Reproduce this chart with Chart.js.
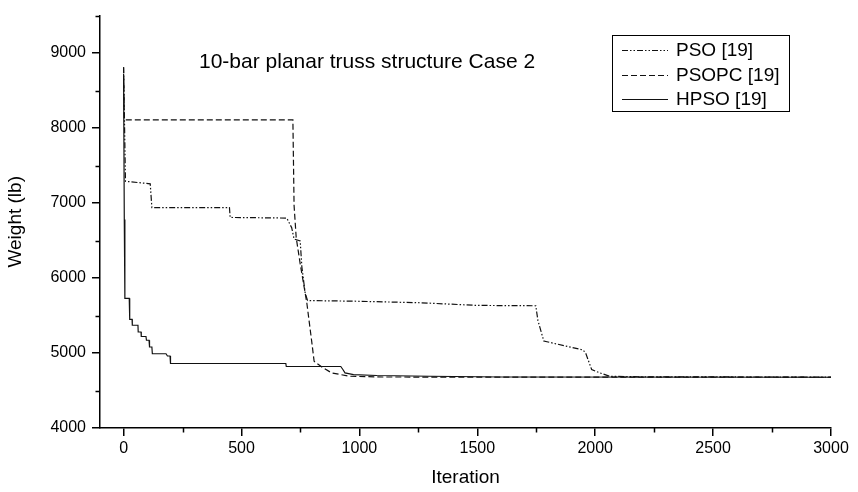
<!DOCTYPE html>
<html>
<head>
<meta charset="utf-8">
<script src="https://cdn.jsdelivr.net/npm/chart.js@4"></script>
<style>
  html, body { margin: 0; padding: 0; background: #fff; }
  #wrap { width: 858px; height: 492px; }
</style>
</head>
<body>
<div id="wrap"><canvas id="c" width="858" height="492"></canvas></div>
<script>
// ---- data ----
const chartTitle = "10-bar planar truss structure Case 2";
const xTitle = "Iteration";
const yTitle = "Weight (lb)";
const seriesNames = ["PSO [19]", "PSOPC [19]", "HPSO [19]"];

const xTicks = [0, 500, 1000, 1500, 2000, 2500, 3000];
const xMinorTicks = [250, 750, 1250, 1750, 2250, 2750];
const yTicks = [4000, 5000, 6000, 7000, 8000, 9000];
const yMinorTicks = [4500, 5500, 6500, 7500, 8500, 9500];

const psoIter   = [0, 8, 113, 120, 449, 452, 692, 713, 723, 749, 756, 770, 780, 1000, 1260, 1500, 1748, 1757, 1782, 1949, 1960, 1985, 2020, 2062, 2200, 3000];
const psoWeight = [8810, 7290, 7257, 6940, 6940, 6808, 6800, 6670, 6520, 6495, 6150, 5800, 5700, 5690, 5670, 5635, 5630, 5435, 5160, 5040, 4995, 4780, 4735, 4690, 4682, 4679];

const psopcIter   = [0, 3, 718, 723, 732, 749, 777, 798, 808, 847, 883, 960, 1100, 3000];
const psopcWeight = [8810, 8110, 8110, 6970, 6540, 6190, 5670, 5150, 4890, 4800, 4734, 4690, 4680, 4677];

const hpsoIter   = [0, 3, 5, 6, 24, 26, 36, 37, 61, 62, 74, 75, 95, 97, 108, 110, 120, 122, 180, 186, 197, 199, 688, 690, 921, 930, 939, 975, 1074, 1300, 1600, 3000];
const hpsoWeight = [8720, 6780, 6780, 5730, 5730, 5450, 5450, 5370, 5370, 5280, 5280, 5220, 5220, 5170, 5170, 5080, 5080, 4990, 4990, 4960, 4960, 4860, 4860, 4820, 4820, 4780, 4735, 4713, 4700, 4690, 4680, 4677];

function zip(xs, ys) { return xs.map((x, i) => ({ x: x, y: ys[i] })); }

const FONT = "'Liberation Sans', Arial, Helvetica, sans-serif";

const overlay = {
  id: 'overlay',
  afterDraw(chart) {
    const ctx = chart.ctx;
    const xs = chart.scales.x, ys = chart.scales.y;
    const area = chart.chartArea;
    ctx.save();
    // minor ticks
    ctx.strokeStyle = '#000';
    ctx.lineWidth = 1.5;
    ctx.beginPath();
    xMinorTicks.forEach(v => {
      const px = Math.round(xs.getPixelForValue(v)) + 0.5;
      ctx.moveTo(px, area.bottom);
      ctx.lineTo(px, area.bottom + 4.5);
    });
    yMinorTicks.forEach(v => {
      const py = Math.round(ys.getPixelForValue(v)) + 0.5;
      ctx.moveTo(area.left, py);
      ctx.lineTo(area.left - 4.5, py);
    });
    ctx.stroke();

    // title inside plot
    ctx.fillStyle = '#000';
    ctx.font = "21px " + FONT;
    ctx.textAlign = 'left';
    ctx.textBaseline = 'middle';
    ctx.fillText(chartTitle, 199, 62);

    // legend box
    const bx = 612.5, by = 35.5, bw = 177, bh = 76;
    ctx.lineWidth = 1;
    ctx.strokeStyle = '#000';
    ctx.strokeRect(bx, by, bw, bh);
    const rows = [50, 75, 99];
    ctx.font = "19px " + FONT;
    chart.data.datasets.forEach((ds, i) => {
      const y = rows[i] + 0.5;
      ctx.save();
      ctx.strokeStyle = ds.borderColor;
      ctx.lineWidth = ds.borderWidth;
      ctx.setLineDash(ds.borderDash || []);
      ctx.beginPath();
      ctx.moveTo(622, y);
      ctx.lineTo(668, y);
      ctx.stroke();
      ctx.restore();
      ctx.fillStyle = '#000';
      ctx.fillText(ds.label, 676, rows[i] + 1);
    });
    ctx.restore();
  }
};

new Chart(document.getElementById('c'), {
  type: 'line',
  data: {
    datasets: [
      { label: seriesNames[0], data: zip(psoIter, psoWeight), borderColor: '#111', borderWidth: 1.2, borderDash: [6, 2, 1.5, 2, 1.5, 2], pointRadius: 0, fill: false, tension: 0 },
      { label: seriesNames[1], data: zip(psopcIter, psopcWeight), borderColor: '#111', borderWidth: 1.2, borderDash: [6, 3], pointRadius: 0, fill: false, tension: 0 },
      { label: seriesNames[2], data: zip(hpsoIter, hpsoWeight), borderColor: '#111', borderWidth: 1.2, borderDash: [], pointRadius: 0, fill: false, tension: 0 }
    ]
  },
  options: {
    responsive: false,
    animation: false,
    devicePixelRatio: 1,
    layout: { padding: { top: 6, right: 27, left: 0, bottom: 0 } },
    plugins: { legend: { display: false }, tooltip: { enabled: false }, title: { display: false } },
    scales: {
      x: {
        type: 'linear', min: -100, max: 3000,
        afterBuildTicks: s => { s.ticks = xTicks.map(v => ({ value: v })); },
        afterFit: s => { s.height = 64; },
        border: { display: true, color: '#000', width: 1.5 },
        grid: { display: true, drawOnChartArea: false, drawTicks: true, tickLength: 8, color: '#000', lineWidth: 1.5 },
        ticks: { color: '#000', font: { family: FONT, size: 16 }, padding: 3, maxRotation: 0, autoSkip: false, callback: v => String(v) },
        title: { display: true, text: xTitle, color: '#000', font: { family: FONT, size: 19 }, padding: { top: 0, bottom: 3 } }
      },
      y: {
        type: 'linear', min: 4000, max: 9500,
        afterBuildTicks: s => { s.ticks = yTicks.map(v => ({ value: v })); },
        afterFit: s => { s.width = 100; },
        border: { display: true, color: '#000', width: 1.5 },
        grid: { display: true, drawOnChartArea: false, drawTicks: true, tickLength: 8, color: '#000', lineWidth: 1.5 },
        ticks: { color: '#000', font: { family: FONT, size: 16 }, padding: 6, autoSkip: false, callback: v => String(v) },
        title: { display: true, text: yTitle, color: '#000', font: { family: FONT, size: 19 }, padding: { top: 4, bottom: 0 } }
      }
    }
  },
  plugins: [overlay]
});
</script>
</body>
</html>
